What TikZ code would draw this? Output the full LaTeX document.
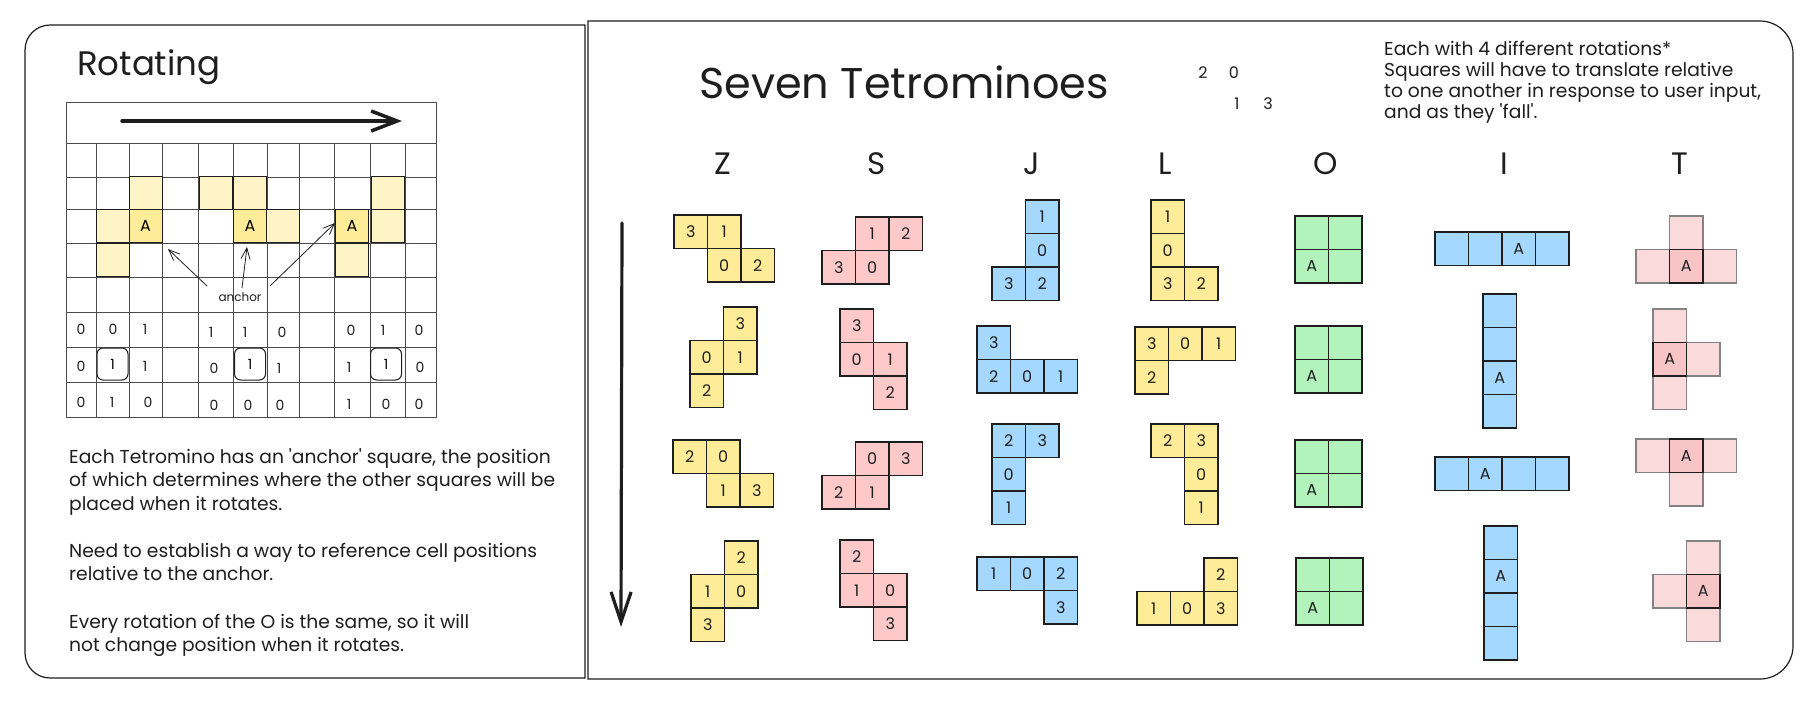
\documentclass[tikz,border=0pt]{standalone}
\usepackage{fontspec}
\setmainfont{Poppins}
\usetikzlibrary{arrows.meta}
\definecolor{ink}{HTML}{1E1E1E}
\definecolor{yel}{HTML}{FFEC99}
\definecolor{yelh}{HTML}{FFF4C6}
\definecolor{pnk}{HTML}{FFC9C9}
\definecolor{blu}{HTML}{A5D8FF}
\definecolor{grn}{HTML}{B2F2BB}
\definecolor{tpl}{HTML}{FADADB}
\definecolor{tpa}{HTML}{F8C5C6}
\newcommand{\fsz}[2]{\fontsize{#1}{#2}\selectfont}
% #1 name, #2 style, #3 x, #4 y, #5 list i/j/label
\newcommand{\tpiece}[5]{%
  \foreach \ci/\cj/\cl in {#5} {
    \node[#2] (#1-\ci-\cj) at ({#3+(\ci+0.5)*33.5},{#4+(\cj+0.5)*33.5}) {\cl};
  }}
\tikzset{
  frame/.style={draw=ink, line width=1.2pt},
  gridl/.style={draw=ink!80, line width=0.8pt},
  cellb/.style={draw=ink, line width=1.1pt, minimum width=33.5pt, minimum height=33.5pt, inner sep=0pt, font=\fsz{16}{18}, text=ink},
  yc/.style={cellb, fill=yel},
  pc/.style={cellb, fill=pnk},
  bc/.style={cellb, fill=blu},
  gc/.style={cellb, fill=grn},
  tc/.style={cellb, fill=tpl, draw=ink!55},
  ta/.style={cellb, fill=tpa},
  lh/.style={draw=ink, line width=1pt, fill=yelh, minimum width=33pt, minimum height=33pt, inner sep=0pt},
  la/.style={lh, fill=yel, font=\fsz{16}{18}},
  bin/.style={font=\fsz{14}{16}, text=ink, inner sep=0pt},
  rbox/.style={draw=ink, line width=1pt, rounded corners=6pt, minimum width=31pt, minimum height=32pt, inner sep=0pt, font=\fsz{14}{16}},
  para/.style={anchor=base west, inner sep=0pt, font=\fsz{18.7}{22}, text=ink},
  colhead/.style={font=\fsz{31}{33}, text=ink, inner sep=0pt},
  thinarr/.style={draw=ink, line width=0.8pt, -{Straight Barb[length=11pt,width=9pt]}},
}
\begin{document}
\begin{tikzpicture}[x=1pt,y=-1pt]
\useasboundingbox (0,0) rectangle (1812,702);
\fill[white] (0,0) rectangle (1812,702);

% frames
\draw[frame] (585,25) -- (50,25) arc[start angle=-90,end angle=-180,radius=25] -- (25,653) arc[start angle=180,end angle=90,radius=25] -- (585,678) -- cycle;
\draw[frame] (588,21) -- (1760,21) arc[start angle=-90,end angle=0,radius=33] -- (1793,646) arc[start angle=0,end angle=90,radius=33] -- (588,679) -- cycle;

% ---------- left panel ----------
\node[anchor=base west, inner sep=0pt, font=\fsz{34}{38}, text=ink] (rot) at (77,75) {Rotating};

\draw[gridl] (66,102) rectangle (436,417);
\draw[gridl] (66,143) -- (436,143);
\foreach \yy in {177,209,243,277,312,347,382} \draw[gridl] (66,\yy) -- (436,\yy);
\foreach \xx in {96,129,162,198,233,267,299,334,370,405} \draw[gridl] (\xx,143) -- (\xx,417);

\coordinate (ha) at (122,121);
\coordinate (hb) at (402,121);
\draw[draw=ink, line width=3.5pt, line cap=round, -{Straight Barb[length=26pt,width=20pt]}] (ha) -- (hb);

% piece 1
\node[lh] (a1) at (145.5,193) {};
\node[lh] (a2) at (112.5,226) {};
\node[la] (a3) at (145.5,226) {A};
\node[lh] (a4) at (112.5,260) {};
% piece 2
\node[lh] (b1) at (215.5,193) {};
\node[lh] (b2) at (250,193) {};
\node[la] (b3) at (250,226) {A};
\node[lh] (b4) at (283,226) {};
% piece 3
\node[lh] (c1) at (387.5,193) {};
\node[la] (c2) at (352,226) {A};
\node[lh] (c3) at (387.5,226) {};
\node[lh] (c4) at (352,260) {};

\node[font=\fsz{12}{14}, text=ink, inner sep=1pt] (anc) at (240,297) {anchor};
\coordinate (t1) at (168,249);
\coordinate (t2) at (247,247);
\coordinate (t3) at (335,223);
\coordinate (s1) at (207,286);
\coordinate (s2) at (242,288);
\coordinate (s3) at (270,286);
\draw[thinarr] (s1) -- (t1);
\draw[thinarr] (s2) -- (t2);
\draw[thinarr] (s3) -- (t3);

% binary matrices
\node[bin] (m100) at (81,329) {0};
\node[bin] (m101) at (113,329) {0};
\node[bin] (m102) at (145,329) {1};
\node[bin] (m110) at (81,366) {0};
\node[rbox] (m111) at (112.5,364) {1};
\node[bin] (m112) at (145,366) {1};
\node[bin] (m120) at (81,402) {0};
\node[bin] (m121) at (112,402) {1};
\node[bin] (m122) at (148,402) {0};

\node[bin] (m200) at (211,332) {1};
\node[bin] (m201) at (245,332) {1};
\node[bin] (m202) at (282,332) {0};
\node[bin] (m210) at (214,368) {0};
\node[rbox] (m211) at (250,364) {1};
\node[bin] (m212) at (279,368) {1};
\node[bin] (m220) at (214,405) {0};
\node[bin] (m221) at (248,405) {0};
\node[bin] (m222) at (280,405) {0};

\node[bin] (m300) at (351,330) {0};
\node[bin] (m301) at (383,330) {1};
\node[bin] (m302) at (419,330) {0};
\node[bin] (m310) at (349,367) {1};
\node[rbox] (m311) at (386,364) {1};
\node[bin] (m312) at (420,367) {0};
\node[bin] (m320) at (349,404) {1};
\node[bin] (m321) at (386,404) {0};
\node[bin] (m322) at (419,404) {0};

\node[para] (l1) at (69,463) {Each Tetromino has an \textquotesingle anchor\textquotesingle\ square, the position};
\node[para] (l2) at (69,486.5) {of which determines where the other squares will be};
\node[para] (l3) at (69,510) {placed when it rotates.};
\node[para] (l4) at (69,557) {Need to establish a way to reference cell positions};
\node[para] (l5) at (69,580.5) {relative to the anchor.};
\node[para] (l6) at (69,628) {Every rotation of the O is the same, so it will};
\node[para] (l7) at (69,651.5) {not change position when it rotates.};

% ---------- right panel ----------
\node[anchor=base west, inner sep=0pt, font=\fsz{43}{47}, text=ink] (title) at (699,98) {Seven Tetrominoes};
\node[bin, font=\fsz{16}{18}] (k2) at (1203,73) {2};
\node[bin, font=\fsz{16}{18}] (k0) at (1234,73) {0};
\node[bin, font=\fsz{16}{18}] (k1) at (1237,104) {1};
\node[bin, font=\fsz{16}{18}] (k3) at (1268,104) {3};

\node[para] (r1) at (1384,55) {Each with 4 different rotations*};
\node[para] (r2) at (1384,76) {Squares will have to translate relative};
\node[para] (r3) at (1384,97) {to one another in response to user input,};
\node[para] (r4) at (1384,118) {and as they \textquotesingle fall\textquotesingle.};

\node[colhead] (hZ) at (723,164) {Z};
\node[colhead] (hS) at (877,164) {S};
\node[colhead] (hJ) at (1032,164) {J};
\node[colhead] (hL) at (1165,164) {L};
\node[colhead] (hO) at (1326,164) {O};
\node[colhead] (hI) at (1504,164) {I};
\node[colhead] (hT) at (1680,164) {T};

\coordinate (va) at (622,223);
\coordinate (vb) at (621,627);
\draw[draw=ink, line width=3.2pt, line cap=round, -{Straight Barb[length=30pt,width=20pt]}] (va) -- (vb);

% Z
\tpiece{Z1}{yc}{674}{215}{0/0/3,1/0/1,1/1/0,2/1/2}
\tpiece{Z2}{yc}{690}{307}{1/0/3,0/1/0,1/1/1,0/2/2}
\tpiece{Z3}{yc}{673}{440}{0/0/2,1/0/0,1/1/1,2/1/3}
\tpiece{Z4}{yc}{691}{541}{1/0/2,0/1/1,1/1/0,0/2/3}
% S
\tpiece{S1}{pc}{822}{217}{1/0/1,2/0/2,0/1/3,1/1/0}
\tpiece{S2}{pc}{840}{309}{0/0/3,0/1/0,1/1/1,1/2/2}
\tpiece{S3}{pc}{822}{442}{1/0/0,2/0/3,0/1/2,1/1/1}
\tpiece{S4}{pc}{840}{540}{0/0/2,0/1/1,1/1/0,1/2/3}
% J
\tpiece{J1}{bc}{992}{200}{1/0/1,1/1/0,0/2/3,1/2/2}
\tpiece{J2}{bc}{977}{326}{0/0/3,0/1/2,1/1/0,2/1/1}
\tpiece{J3}{bc}{992}{424}{0/0/2,1/0/3,0/1/0,0/2/1}
\tpiece{J4}{bc}{977}{557}{0/0/1,1/0/0,2/0/2,2/1/3}
% L
\tpiece{L1}{yc}{1151}{200}{0/0/1,0/1/0,0/2/3,1/2/2}
\tpiece{L2}{yc}{1135}{327}{0/0/3,1/0/0,2/0/1,0/1/2}
\tpiece{L3}{yc}{1151}{424}{0/0/2,1/0/3,1/1/0,1/2/1}
\tpiece{L4}{yc}{1137}{558}{2/0/2,0/1/1,1/1/0,2/1/3}
% O
\tpiece{O1}{gc}{1295}{216}{0/0/\relax,1/0/\relax,0/1/A,1/1/\relax}
\tpiece{O2}{gc}{1295}{326}{0/0/\relax,1/0/\relax,0/1/A,1/1/\relax}
\tpiece{O3}{gc}{1295}{440}{0/0/\relax,1/0/\relax,0/1/A,1/1/\relax}
\tpiece{O4}{gc}{1296}{558}{0/0/\relax,1/0/\relax,0/1/A,1/1/\relax}
% I
\tpiece{I1}{bc}{1435}{232}{0/0/\relax,1/0/\relax,2/0/A,3/0/\relax}
\tpiece{I2}{bc}{1483}{294}{0/0/\relax,0/1/\relax,0/2/A,0/3/\relax}
\tpiece{I3}{bc}{1435}{457}{0/0/\relax,1/0/A,2/0/\relax,3/0/\relax}
\tpiece{I4}{bc}{1484}{526}{0/0/\relax,0/1/A,0/2/\relax,0/3/\relax}
% T
\tpiece{T1}{tc}{1636}{216}{1/0/\relax,0/1/\relax,2/1/\relax}
\tpiece{T1}{ta}{1636}{216}{1/1/A}
\tpiece{T2}{tc}{1653}{309}{0/0/\relax,1/1/\relax,0/2/\relax}
\tpiece{T2}{ta}{1653}{309}{0/1/A}
\tpiece{T3}{tc}{1636}{439}{0/0/\relax,2/0/\relax,1/1/\relax}
\tpiece{T3}{ta}{1636}{439}{1/0/A}
\tpiece{T4}{tc}{1653}{541}{1/0/\relax,0/1/\relax,1/2/\relax}
\tpiece{T4}{ta}{1653}{541}{1/1/A}
\end{tikzpicture}
\end{document}
